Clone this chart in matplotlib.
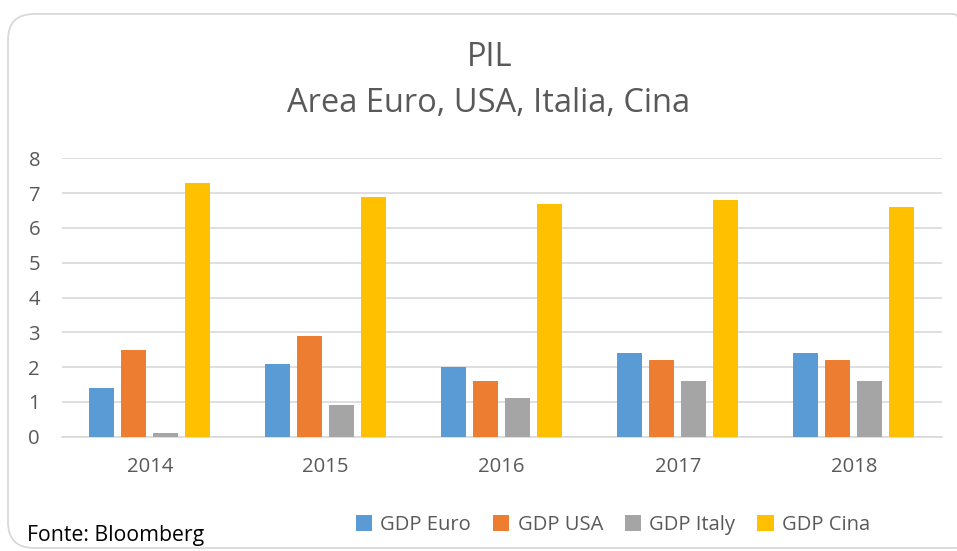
import matplotlib
matplotlib.use("Agg")
import matplotlib.pyplot as plt
import numpy as np
from matplotlib.patches import FancyBboxPatch
from matplotlib.transforms import IdentityTransform

plt.rcParams['font.family'] = ['Open Sans', 'DejaVu Sans']

years = ['2014', '2015', '2016', '2017', '2018']
series_names = ['GDP Euro', 'GDP USA', 'GDP Italy', 'GDP Cina']
gdp_euro = [1.4, 2.1, 2.0, 2.4, 2.4]
gdp_usa = [2.5, 2.9, 1.6, 2.2, 2.2]
gdp_italy = [0.1, 0.9, 1.1, 1.6, 1.6]
gdp_cina = [7.3, 6.9, 6.7, 6.8, 6.6]
colors = ['#5B9BD5', '#ED7D31', '#A5A5A5', '#FFC000']

W, H = 957, 551
fig = plt.figure(figsize=(W / 100, H / 100), dpi=100)
fig.patch.set_facecolor('white')

# rounded chart border
border = FancyBboxPatch((8, 3), 972, 534, boxstyle="round,pad=0,rounding_size=26",
                        transform=IdentityTransform(), facecolor='none',
                        edgecolor='#D9D9D9', linewidth=1.3, zorder=-1)
fig.patches.append(border)

ax = fig.add_axes([61.7 / W, 114.3 / H, 880 / W, 278.4 / H])
ax.set_facecolor('none')

x = np.arange(len(years))
step = 0.182
bw = 0.142
handles = []
for i, (vals, c, name) in enumerate(zip([gdp_euro, gdp_usa, gdp_italy, gdp_cina], colors, series_names)):
    b = ax.bar(x + (i - 1.5) * step, vals, width=bw, color=c, label=name, zorder=3)
    handles.append(b)

ax.set_xlim(-0.5, 4.5)
ax.set_ylim(0, 8)
ax.set_yticks(range(0, 9))
ax.set_xticks(x)
ax.set_xticklabels(years)
ax.yaxis.grid(True, color='#D9D9D9', linewidth=1.2, zorder=0)
ax.set_axisbelow(True)
for s in ['top', 'right', 'left']:
    ax.spines[s].set_visible(False)
ax.spines['bottom'].set_color('#D9D9D9')
ax.spines['bottom'].set_linewidth(1.2)
ax.tick_params(axis='both', length=0, colors='#595959', labelsize=14.6)
ax.tick_params(axis='y', pad=15.6)
ax.tick_params(axis='x', pad=14.5)

fig.text(490 / W, 1 - 57 / H, 'PIL', ha='center', va='center', fontsize=23.5, color='#595959')
fig.text(489 / W, 1 - 103 / H, 'Area Euro, USA, Italia, Cina', ha='center', va='center',
         fontsize=23.5, color='#595959')

fig.legend(handles=handles, labels=series_names, loc='center', bbox_to_anchor=(613 / W, 1 - 525 / H),
           ncol=4, frameon=False, fontsize=14.5, handlelength=0.8, handleheight=0.8,
           handletextpad=0.4, columnspacing=1.1, labelcolor='#595959')

fig.text(27 / W, 1 - 536 / H, 'Fonte: Bloomberg', ha='left', va='center', fontsize=15.3, color='black')

fig.savefig('out.png', dpi=100)
